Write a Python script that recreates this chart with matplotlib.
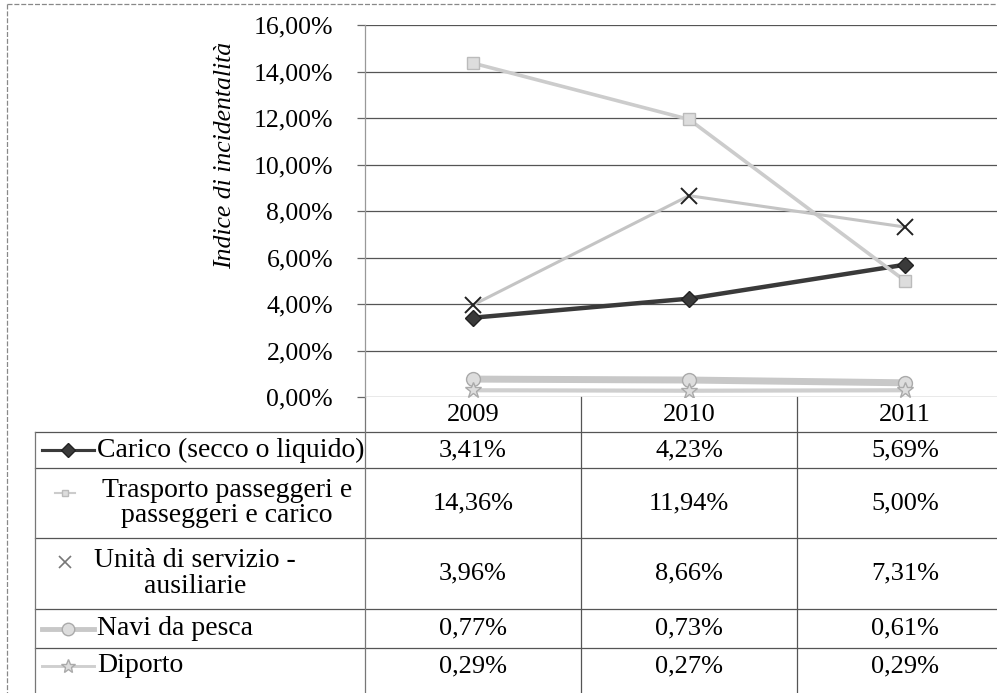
import matplotlib
matplotlib.use("Agg")
import matplotlib.pyplot as plt
from matplotlib.transforms import blended_transform_factory
from matplotlib.lines import Line2D

# ---- data ----
years = ["2009", "2010", "2011"]
series_names = ["Carico (secco o liquido)",
                "Trasporto passeggeri e\npasseggeri e carico",
                "Unità di servizio -\nausiliarie",
                "Navi da pesca",
                "Diporto"]
carico = [3.41, 4.23, 5.69]
trasporto = [14.36, 11.94, 5.00]
unita = [3.96, 8.66, 7.31]
navi = [0.77, 0.73, 0.61]
diporto = [0.29, 0.27, 0.29]
yticks = [0, 2, 4, 6, 8, 10, 12, 14, 16]
ylabel = "Indice di incidentalità"

values = [carico, trasporto, unita, navi, diporto]
styles = [
    dict(color="#3a3a3a", lw=3.2, marker="D", ms=8, mfc="#3a3a3a", mec="#222222", mew=1),
    dict(color="#cccccc", lw=2.6, marker="s", ms=8, mfc="#dddddd", mec="#bbbbbb", mew=1),
    dict(color="#c4c4c4", lw=2.2, marker="x", ms=12, mfc="none", mec="#222222", mew=1.4),
    dict(color="#c8c8c8", lw=5.0, marker="o", ms=10, mfc="#dddddd", mec="#aaaaaa", mew=1),
    dict(color="#cfcfcf", lw=3.0, marker="*", ms=12, mfc="#dddddd", mec="#aaaaaa", mew=1),
]

plt.rcParams["font.family"] = ["Liberation Serif", "DejaVu Serif"]

W, H = 997, 693
fig = plt.figure(figsize=(W / 100, H / 100), dpi=100)

# overlay in pixel coordinates (y downwards)
ov = fig.add_axes([0, 0, 1, 1], zorder=0)
ov.set_xlim(0, W)
ov.set_ylim(H, 0)
ov.axis("off")

# main plot axes
left_px, right_px, top_px, bot_px = 365, 1013, 25, 397
ax = fig.add_axes([left_px / W, (H - bot_px) / H, (right_px - left_px) / W, (bot_px - top_px) / H], zorder=2)
ax.patch.set_alpha(0)
x = list(range(len(years)))
for vals, st in zip(values, styles):
    ax.plot(x, vals, solid_capstyle="round", **st)
ax.set_xlim(-0.5, len(years) - 0.5)
ax.set_ylim(0, 16)
ax.set_yticks(yticks)
ax.set_yticklabels([f"{t:.2f}".replace(".", ",") + "%" for t in yticks], fontsize=18.5)
ax.set_xticks([])
ax.yaxis.grid(True, color="#555555", lw=0.9)
ax.set_axisbelow(True)
for s in ["top", "right", "bottom"]:
    ax.spines[s].set_visible(False)
ax.spines["left"].set_color("#999999")
ax.spines["left"].set_linewidth(0.9)
ax.tick_params(axis="y", length=6, width=0.9, color="#666666", pad=17)

# y label
ov.text(225, 155, ylabel, rotation=90, ha="center", va="center", style="italic", fontsize=18.5)

# outer frame
lc = "#888888"
ov.add_line(Line2D([7, 7], [4, H], color=lc, lw=0.9, ls=(0, (4, 1.5))))
ov.add_line(Line2D([7, W], [4, 4], color=lc, lw=0.9, ls=(0, (4, 1.5))))

# data table
bt = blended_transform_factory(ax.transData, ov.transData)
row_lines = [432, 468, 538, 609, 648]
for y in row_lines:
    ov.add_line(Line2D([35, W], [y, y], color="#555555", lw=0.9))
ov.add_line(Line2D([35, 35], [432, H], color="#777777", lw=0.9))
ov.add_line(Line2D([left_px, left_px], [bot_px, H], color="#777777", lw=0.9))
for i in range(1, len(years)):
    ov.plot([i - 0.5, i - 0.5], [bot_px, H], color="#555555", lw=0.9, transform=bt)

# year header
for i, yr in enumerate(years):
    ov.text(i, 415, yr, ha="center", va="center", fontsize=19, transform=bt)

row_centers = [(row_lines[k] + (row_lines[k + 1] if k + 1 < len(row_lines) else 684)) / 2
               for k in range(len(row_lines))]
row_centers[-1] = 666

def fmt(v):
    return f"{v:.2f}".replace(".", ",") + "%"

for k, (name, vals, st) in enumerate(zip(series_names, values, styles)):
    yc = row_centers[k]
    for i, v in enumerate(vals):
        ov.text(i, yc, fmt(v), ha="center", va="center", fontsize=19, transform=bt)
    # legend key
    if k in (0, 3, 4):
        kx0, kx1 = 42, 94
        ov.plot([kx0, kx1], [yc, yc], color=st["color"], lw=st["lw"] * 0.7)
        ov.plot([(kx0 + kx1) / 2], [yc], marker=st["marker"], ms=st["ms"] * 0.9,
                mfc=st["mfc"], mec=st["mec"], mew=st["mew"], ls="none")
        ov.text(97, yc, name, ha="left", va="center", fontsize=20)
    elif k == 1:
        ov.plot([55, 75], [yc - 10, yc - 10], color=st["color"], lw=1.5)
        ov.plot([65], [yc - 10], marker="s", ms=5, mfc=st["mfc"], mec=st["mec"], ls="none")
        ov.text(227, yc, name, ha="center", va="center", fontsize=20, linespacing=1.05,
                multialignment="center")
    else:
        ov.plot([65], [yc - 12], marker="x", ms=8, mec="#777777", mew=1.2, ls="none")
        ov.text(195, yc, name, ha="center", va="center", fontsize=20, linespacing=1.05,
                multialignment="center")

fig.savefig("out.png", dpi=100)
